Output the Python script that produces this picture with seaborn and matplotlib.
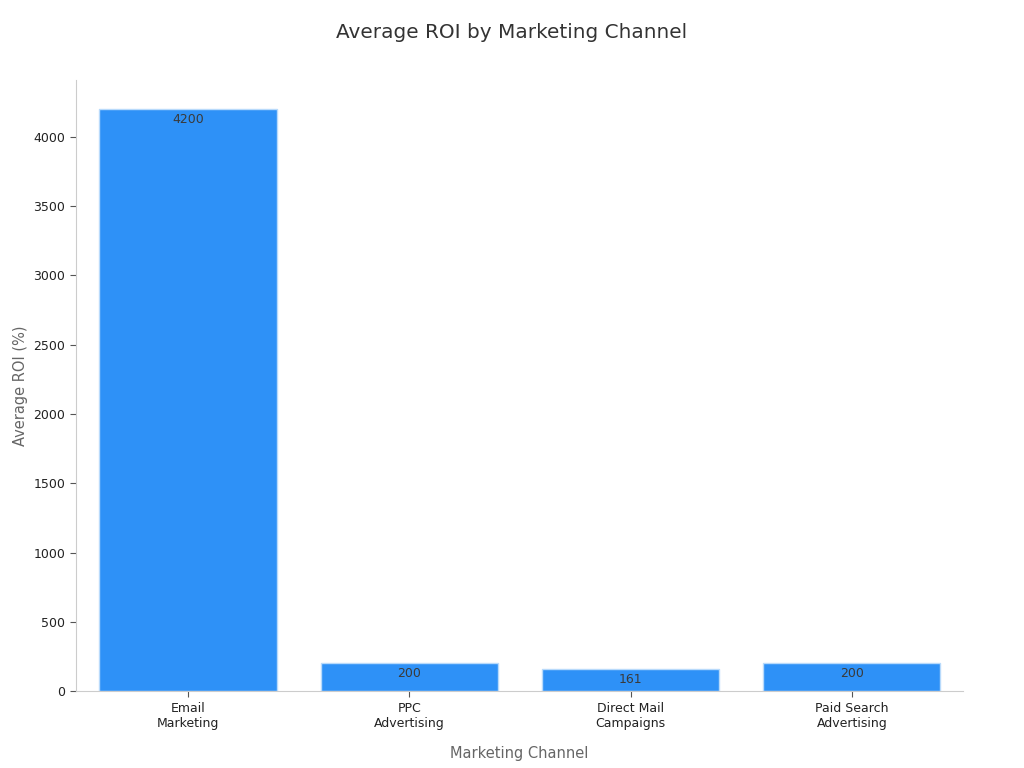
import matplotlib
matplotlib.use("Agg")
import matplotlib.pyplot as plt
import seaborn as sns
import pandas as pd

channels = ["Email\nMarketing", "PPC\nAdvertising", "Direct Mail\nCampaigns", "Paid Search\nAdvertising"]
roi = [4200, 200, 161, 200]

df = pd.DataFrame({"channel": channels, "roi": roi})

sns.set_theme(style="white")
plt.rcParams["font.family"] = ["DejaVu Sans"]

fig, ax = plt.subplots(figsize=(10.24, 7.68), dpi=100)
sns.barplot(data=df, x="channel", y="roi", color="#2E91F7", saturation=1,
            edgecolor="#B8DAFB", linewidth=1, width=0.8, ax=ax)

for i, v in enumerate(roi):
    ax.annotate(f"{v}", xy=(i, v), xytext=(0, -7.5), textcoords="offset points",
                ha="center", va="center", fontsize=9, color="#3A3A3A")

ax.set_ylim(0, 4410)
ax.set_xlim(-0.507, 3.5)
fig.suptitle("Average ROI by Marketing Channel", fontsize=14.4, color="#333333",
             x=0.5, y=1 - 33 / 768, va="center")
ax.set_xlabel("Marketing Channel", fontsize=10.5, color="#666666", labelpad=12)
ax.set_ylabel("Average ROI (%)", fontsize=10.5, color="#666666")
ax.tick_params(axis="both", labelsize=9, colors="#555555", length=4, width=0.8,
               direction="out", bottom=True, left=True)
for lbl in ax.get_xticklabels() + ax.get_yticklabels():
    lbl.set_color("#222222")
sns.despine(ax=ax)
for s in ["left", "bottom"]:
    ax.spines[s].set_color("#CCCCCC")
    ax.spines[s].set_linewidth(0.8)

plt.subplots_adjust(left=0.074, right=0.94, top=0.896, bottom=0.1)
plt.savefig("out.png", dpi=100)
